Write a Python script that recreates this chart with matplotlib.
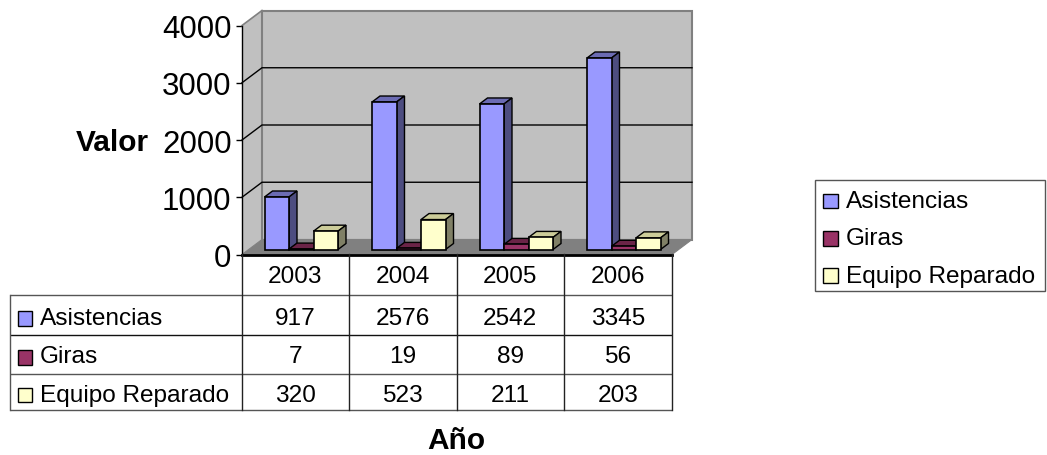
import matplotlib
matplotlib.use("Agg")
import matplotlib.pyplot as plt
from matplotlib.patches import Polygon, Rectangle

plt.rcParams['font.family'] = ['Liberation Sans', 'DejaVu Sans']

years = ['2003', '2004', '2005', '2006']
series_names = ['Asistencias', 'Giras', 'Equipo Reparado']
asistencias = [917, 2576, 2542, 3345]
giras = [7, 19, 89, 56]
equipo = [320, 523, 211, 203]
series_values = [asistencias, giras, equipo]
y_ticks = [0, 1000, 2000, 3000, 4000]

front_colors = ['#9999FF', '#993366', '#FFFFCC']
top_colors = ['#6B6BB3', '#6B2447', '#CCCC99']
side_colors = ['#4D4D80', '#4D1A33', '#808066']

W, H = 1047, 456
fig = plt.figure(figsize=(W / 100, H / 100), dpi=100, facecolor='white')

# overlay in pixels for table, legend and axis titles
px = fig.add_axes([0, 0, 1, 1], zorder=3)
px.set_xlim(0, W)
px.set_ylim(H, 0)
px.axis('off')
px.patch.set_alpha(0)

# plot area: front face of the 3D box
left, right, top, bottom = 242, 672, 26.5, 255.5
ax = fig.add_axes([left / W, 1 - bottom / H, (right - left) / W, (bottom - top) / H], zorder=2)
ax.set_xlim(0, len(years))
ax.set_ylim(0, 4000)
ax.patch.set_alpha(0)

# pixel sizes converted to data units
x_per_px = len(years) / (right - left)
y_per_px = 4000 / (bottom - top)
wall_dx, wall_dy = 20 * x_per_px, 15 * y_per_px
bar_dx, bar_dy = 8 * x_per_px, 6 * y_per_px
bar_w = 24.5 * x_per_px
bar_start = 22.5 * x_per_px
base = 5 * y_per_px
n = len(years)

# walls and floor
ax.add_patch(Polygon([(0, 0), (wall_dx, wall_dy), (wall_dx, 4000 + wall_dy), (0, 4000)],
                     fc='#C0C0C0', ec='none', clip_on=False, zorder=1))
ax.add_patch(Rectangle((wall_dx, wall_dy), n, 4000, fc='#C0C0C0', ec='#808080', lw=1.5, clip_on=False, zorder=1))
ax.add_patch(Polygon([(0, 0), (n, 0), (n + wall_dx, wall_dy), (wall_dx, wall_dy)],
                     fc='#808080', ec='#808080', lw=0.8, clip_on=False, zorder=2))
ax.plot([0, wall_dx], [4000, 4000 + wall_dy], color='#808080', lw=1.2, clip_on=False, zorder=2)

for v in y_ticks[1:4]:
    ax.plot([0, wall_dx, n + wall_dx], [v, v + wall_dy, v + wall_dy], color='black', lw=1, clip_on=False, zorder=1.5)

# bars
for i in range(n):
    for s, values in enumerate(series_values):
        x0 = i + bar_start + s * bar_w
        x1 = x0 + bar_w
        y1 = base + values[i]
        ax.add_patch(Polygon([(x0, y1), (x1, y1), (x1 + bar_dx, y1 + bar_dy), (x0 + bar_dx, y1 + bar_dy)],
                             fc=top_colors[s], ec='black', lw=1, clip_on=False, zorder=3 + s))
        ax.add_patch(Polygon([(x1, base), (x1 + bar_dx, base + bar_dy), (x1 + bar_dx, y1 + bar_dy), (x1, y1)],
                             fc=side_colors[s], ec='black', lw=1, clip_on=False, zorder=3 + s))
        ax.bar(x0, values[i], width=bar_w, bottom=base, align='edge', color=front_colors[s],
               edgecolor='black', lw=1.2, clip_on=False, zorder=3 + s)

for side in ['top', 'right']:
    ax.spines[side].set_visible(False)
ax.spines['left'].set_linewidth(1)
ax.spines['bottom'].set_linewidth(2)
ax.spines['left'].set_zorder(10)
ax.spines['bottom'].set_zorder(10)
ax.set_yticks(y_ticks)
ax.set_xticks([])
ax.tick_params(axis='y', labelsize=22.5, length=4.5, width=1, pad=3)

# data table
table_x = [10, 241.5, 349, 456.5, 564, 672]
row_y = [255, 295.5, 335.5, 375, 411]
text_size = 17.6
line_colors = ['#555555', '#111111', '#555555', '#555555']
for y, c in zip(row_y[1:], line_colors):
    px.plot([table_x[0], table_x[-1]], [y, y], color=c, lw=1, solid_capstyle='butt')
px.plot([table_x[0], table_x[0]], [row_y[1], row_y[-1]], color='#555555', lw=1)
for x in table_x[1:]:
    px.plot([x, x], [row_y[0], row_y[-1]], color='#222222', lw=1)

for j, year in enumerate(years):
    px.text((table_x[j + 1] + table_x[j + 2]) / 2, 277.5, year, fontsize=text_size, ha='center', va='center')

table_text_y = [319, 357.5, 396]
swatch_y = [312, 351, 389]
for s, name in enumerate(series_names):
    px.add_patch(Rectangle((17.5, swatch_y[s]), 14.5, 14.5, fc=front_colors[s], ec='black', lw=1))
    px.text(40, table_text_y[s], name, fontsize=text_size, ha='left', va='center')
    for j, v in enumerate(series_values[s]):
        px.text((table_x[j + 1] + table_x[j + 2]) / 2, table_text_y[s], str(v), fontsize=text_size, ha='center', va='center')

# legend
px.add_patch(Rectangle((814.5, 181), 230, 111, fc='white', ec='#555555', lw=1))
legend_swatch_y = [194.5, 232, 269]
legend_text_y = [202, 239.5, 277.5]
for s, name in enumerate(series_names):
    px.add_patch(Rectangle((823, legend_swatch_y[s]), 14.5, 14.5, fc=front_colors[s], ec='black', lw=1))
    px.text(845.5, legend_text_y[s], name, fontsize=text_size, ha='left', va='center')

# axis titles
px.text(112, 143, 'Valor', fontsize=21.5, fontweight='bold', ha='center', va='center')
px.text(456.5, 441, 'Año', fontsize=21.5, fontweight='bold', ha='center', va='center')

fig.savefig('out.png', dpi=100)
